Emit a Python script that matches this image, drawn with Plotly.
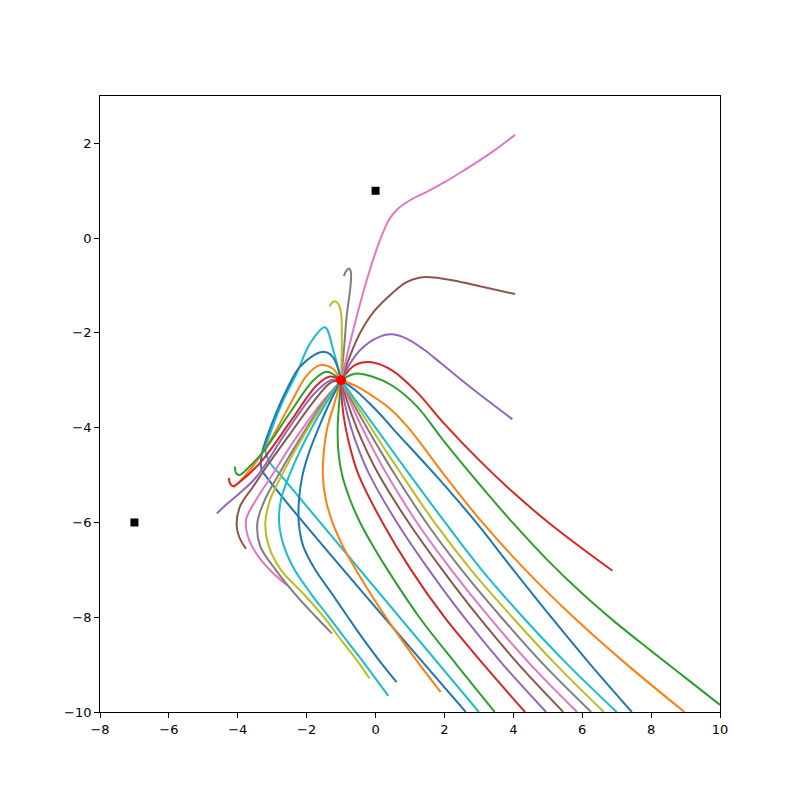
import plotly.graph_objects as go

# ---- data: trajectories (x, y) ----
t01_x = [-1, -0.6, -0.2, 0.2, 0.6, 1.2, 1.8, 2.92, 4.0, 5.1, 6.24, 7.44]
t01_y = [-3, -3.2, -3.47, -3.77, -4.1, -4.57, -5.05, -6, -7, -8, -9, -10]
t02_x = [-1, -0.55, -0.07, 0.42, 0.95, 2.0, 3.1, 4.35, 5.75, 7.3, 8.97]
t02_y = [-3, -3.13, -3.34, -3.6, -4, -5, -6, -7, -8, -9, -10]
t03_x = [-1, -0.6, -0.1, 0.5, 1.2, 2.0, 3.0, 4.0, 5.0, 6.0, 7.0, 8.0, 9.0, 10]
t03_y = [-3, -2.86, -2.92, -3.12, -3.55, -4.3, -5.18, -6.02, -6.8, -7.5, -8.13, -8.71, -9.28, -9.85]
t04_x = [-1, -0.6, -0.11, 0.5, 1.2, 2.0, 3.0, 4.0, 5.0, 6.0, 6.88]
t04_y = [-3, -2.68, -2.62, -2.8, -3.25, -3.92, -4.68, -5.37, -5.99, -6.55, -7.02]
t05_x = [-1, -0.7, -0.4, 0.0, 0.45, 0.9, 1.4, 1.9, 2.85, 3.97]
t05_y = [-3, -2.6, -2.33, -2.12, -2.03, -2.12, -2.35, -2.64, -3.2, -3.82]
t06_x = [-1, -0.75, -0.45, -0.05, 0.5, 0.9, 1.3, 1.7, 2.3, 3.0, 4.05]
t06_y = [-3, -2.5, -2.0, -1.55, -1.15, -0.93, -0.83, -0.83, -0.9, -1.01, -1.18]
t07_x = [-1, -0.6, -0.2, 0.15, 0.4, 0.65, 1.0, 1.5, 2.0, 2.5, 3.0, 3.5, 4.05]
t07_y = [-3, -1.8, -0.75, 0.0, 0.4, 0.62, 0.8, 0.98, 1.18, 1.4, 1.63, 1.88, 2.18]
t08_x = [-1, -0.9, -0.84, -0.72, -0.72, -0.77, -0.86, -0.92]
t08_y = [-3, -2.2, -1.66, -0.95, -0.7, -0.64, -0.7, -0.8]
t09_x = [-1, -0.98, -1.0, -1.07, -1.17, -1.26, -1.33]
t09_y = [-3, -2.2, -1.6, -1.4, -1.33, -1.36, -1.44]
t10_x = [-1, -1.23, -1.47, -1.9, -2.29, -2.68, -3.06, -3.2, -3.1, -2.7, 3.0]
t10_y = [-3, -2.36, -1.88, -2.22, -2.85, -3.42, -4.12, -4.45, -4.7, -5.05, -10]
t11_x = [-1, -1.25, -1.56, -2.19, -2.58, -3.0, -3.3, -3.32, -3.05, 2.62]
t11_y = [-3, -2.5, -2.4, -2.71, -3.2, -3.9, -4.55, -4.85, -5.15, -10]
t12_x = [-1, -1.25, -1.61, -2.0, -2.4, -3.0, -3.6, -4.0, -4.12]
t12_y = [-3, -2.75, -2.68, -2.9, -3.4, -4.2, -4.85, -5.18, -5.26]
t13_x = [-1, -1.42, -1.8, -2.5, -3.2, -3.7, -3.95, -4.05, -4.08]
t13_y = [-3, -2.82, -3.0, -3.7, -4.45, -4.85, -5.0, -4.96, -4.82]
t14_x = [-1, -1.32, -1.7, -2.5, -3.3, -3.9, -4.15, -4.24, -4.25]
t14_y = [-3, -2.92, -3.1, -3.9, -4.7, -5.12, -5.23, -5.15, -5.06]
t15_x = [-1, -1.3, -1.8, -2.6, -3.45, -3.94, -4.3, -4.61]
t15_y = [-3, -3.0, -3.3, -4.1, -5.03, -5.38, -5.6, -5.81]
t16_x = [-1, -1.3, -1.8, -2.5, -3.16, -3.55, -3.94, -4.03, -3.9, -3.76]
t16_y = [-3, -3.05, -3.45, -4.15, -4.82, -5.24, -5.67, -6.09, -6.4, -6.55]
t17_x = [-1, -1.6, -2.1, -2.57, -3.0, -3.45, -3.76, -3.68, -3.4, -3.0, -2.58]
t17_y = [-3, -3.5, -4.0, -4.5, -5.0, -5.5, -5.95, -6.35, -6.72, -7.05, -7.32]
t18_x = [-1, -1.55, -2.0, -2.42, -2.82, -3.2, -3.43, -3.35, -2.9, -2.35, -1.72, -1.27]
t18_y = [-3, -3.5, -4.0, -4.5, -5.0, -5.5, -6.0, -6.5, -7.0, -7.5, -8.0, -8.34]
t19_x = [-1, -1.5, -1.95, -2.35, -2.72, -3.05, -3.2, -3.1, -2.75, -2.1, -1.5, -0.98, -0.45, -0.18]
t19_y = [-3, -3.5, -4.0, -4.5, -5.0, -5.5, -6.0, -6.5, -7.0, -7.5, -8.0, -8.5, -9.0, -9.29]
t20_x = [-1, -1.45, -1.85, -2.2, -2.5, -2.74, -2.8, -2.66, -2.35, -1.88, -1.35, -0.83, -0.3, 0.37]
t20_y = [-3, -3.5, -4.0, -4.5, -5.0, -5.5, -6.0, -6.5, -7.0, -7.5, -8.0, -8.5, -9.0, -9.66]
t21_x = [-1, -1.35, -1.65, -1.92, -2.12, -2.22, -2.23, -2.1, -1.75, -1.27, -0.8, -0.32, 0.2, 0.61]
t21_y = [-3, -3.5, -4.0, -4.5, -5.0, -5.5, -6.0, -6.5, -7.0, -7.5, -8.0, -8.5, -9.0, -9.37]
t22_x = [-1, -1.2, -1.4, -1.5, -1.53, -1.45, -1.25, -0.95, -0.57, -0.15, 0.3, 0.78, 1.28, 1.89]
t22_y = [-3, -3.5, -4.0, -4.5, -5.0, -5.5, -6.0, -6.5, -7.0, -7.5, -8.0, -8.5, -9.0, -9.58]
t23_x = [-1, -1.06, -1.1, -1.08, -0.97, -0.75, -0.45, -0.07, 0.35, 1.27, 2.35, 3.46]
t23_y = [-3, -3.5, -4.0, -4.5, -5.0, -5.5, -6.0, -6.5, -7.0, -8.0, -9.0, -10]
t24_x = [-1, -0.97, -0.87, -0.71, -0.49, 0.2, 1.03, 2.0, 3.14, 4.34]
t24_y = [-3, -3.5, -4.0, -4.5, -5.0, -6.0, -7.0, -8.0, -9.0, -10]
t25_x = [-1, -0.89, -0.71, -0.47, -0.17, 0.62, 1.55, 2.57, 3.7, 4.95]
t25_y = [-3, -3.5, -4.0, -4.5, -5.0, -6.0, -7.0, -8.0, -9.0, -10]
t26_x = [-1, -0.8, -0.55, -0.25, 0.1, 0.96, 1.94, 3.0, 4.16, 5.45]
t26_y = [-3, -3.5, -4.0, -4.5, -5.0, -6.0, -7.0, -8.0, -9.0, -10]
t27_x = [-1, -0.71, -0.39, -0.04, 0.34, 1.2, 2.2, 3.3, 4.5, 5.85]
t27_y = [-3, -3.5, -4.0, -4.5, -5.0, -6.0, -7.0, -8.0, -9.0, -10]
t28_x = [-1, -0.64, -0.25, 0.15, 0.57, 1.47, 2.5, 3.65, 4.88, 6.26]
t28_y = [-3, -3.5, -4.0, -4.5, -5.0, -6.0, -7.0, -8.0, -9.0, -10]
t29_x = [-1, -0.57, -0.13, 0.31, 0.77, 1.71, 2.77, 3.97, 5.24, 6.63]
t29_y = [-3, -3.5, -4.0, -4.5, -5.0, -6.0, -7.0, -8.0, -9.0, -10]
t30_x = [-1, -0.5, 0.0, 0.5, 1.0, 2.02, 3.08, 4.28, 5.58, 7.0]
t30_y = [-3, -3.5, -4.0, -4.5, -5.0, -6.0, -7.0, -8.0, -9.0, -10]

start_x = [-1]
start_y = [-3]
square_x = [0, -7]
square_y = [1, -6]

x_ticks = [-8, -6, -4, -2, 0, 2, 4, 6, 8, 10]
y_ticks = [-10, -8, -6, -4, -2, 0, 2]

curves = [
    (t01_x, t01_y), (t02_x, t02_y), (t03_x, t03_y), (t04_x, t04_y), (t05_x, t05_y),
    (t06_x, t06_y), (t07_x, t07_y), (t08_x, t08_y), (t09_x, t09_y), (t10_x, t10_y),
    (t11_x, t11_y), (t12_x, t12_y), (t13_x, t13_y), (t14_x, t14_y), (t15_x, t15_y),
    (t16_x, t16_y), (t17_x, t17_y), (t18_x, t18_y), (t19_x, t19_y), (t20_x, t20_y),
    (t21_x, t21_y), (t22_x, t22_y), (t23_x, t23_y), (t24_x, t24_y), (t25_x, t25_y),
    (t26_x, t26_y), (t27_x, t27_y), (t28_x, t28_y), (t29_x, t29_y), (t30_x, t30_y),
]

palette = ["#1f77b4", "#ff7f0e", "#2ca02c", "#d62728", "#9467bd",
           "#8c564b", "#e377c2", "#7f7f7f", "#bcbd22", "#17becf"]

fig = go.Figure()
for i, (cx, cy) in enumerate(curves):
    fig.add_trace(go.Scatter(
        x=cx, y=cy, mode="lines",
        line=dict(color=palette[i % 10], width=2, shape="spline", smoothing=1.0),
        showlegend=False, hoverinfo="skip"))

fig.add_trace(go.Scatter(x=square_x, y=square_y, mode="markers",
                         marker=dict(symbol="square", size=8, color="black"),
                         showlegend=False))
fig.add_trace(go.Scatter(x=start_x, y=start_y, mode="markers",
                         marker=dict(symbol="circle", size=10, color="red"),
                         showlegend=False))

axis_common = dict(showgrid=False, zeroline=False, showline=True, linecolor="black",
                   linewidth=1, mirror=True, ticks="outside", ticklen=4.9, tickwidth=1,
                   tickcolor="black", tickfont=dict(family="DejaVu Sans", size=13, color="black"))
fig.update_xaxes(range=[-8, 10], tickvals=x_ticks, **axis_common)
fig.update_yaxes(range=[-10, 3], tickvals=y_ticks, **axis_common)

# page body has an 8px margin: shrink the figure so the plot area lands at 100..720 x 96..712
fig.update_layout(width=792, height=792, plot_bgcolor="white", paper_bgcolor="white",
                  margin=dict(l=92, r=80, t=88, b=88, autoexpand=False))

fig.write_html("out.html")
